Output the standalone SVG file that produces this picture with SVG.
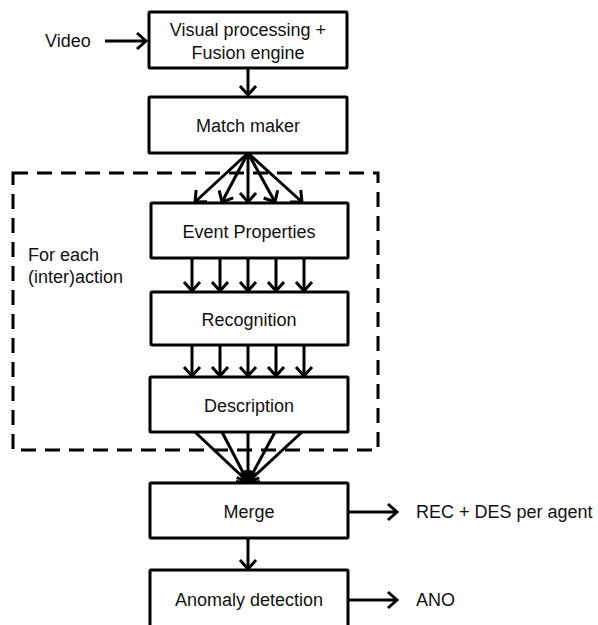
<svg xmlns="http://www.w3.org/2000/svg" width="598" height="625" viewBox="0 0 598 625">
<defs>
<style>
.box{fill:#fff;stroke:#000;stroke-width:3}
.t{font-family:"Liberation Sans",Arial,sans-serif;font-size:18px;fill:#111}
.c{stroke:#000;stroke-width:3;fill:none}
</style>
<marker id="ah" markerUnits="userSpaceOnUse" markerWidth="20" markerHeight="20" viewBox="-12 -10 14 20" refX="0" refY="0" orient="auto" overflow="visible">
<path d="M-9,-8 L0,0 L-9,8" fill="none" stroke="#000" stroke-width="3"/>
</marker>
</defs>
<rect width="598" height="625" fill="#fff"/>
<rect x="13" y="173" width="365" height="277" fill="none" stroke="#000" stroke-width="3" stroke-dasharray="15,9"/>
<g id="connectors">
<line class="c" x1="105" y1="41" x2="146" y2="41" marker-end="url(#ah)"/>
<line class="c" x1="248" y1="68" x2="248" y2="95" marker-end="url(#ah)"/>
<line class="c" x1="248" y1="153" x2="195" y2="202" marker-end="url(#ah)"/>
<line class="c" x1="248" y1="153" x2="222" y2="202" marker-end="url(#ah)"/>
<line class="c" x1="248" y1="153" x2="248" y2="202" marker-end="url(#ah)"/>
<line class="c" x1="248" y1="153" x2="275" y2="202" marker-end="url(#ah)"/>
<line class="c" x1="248" y1="153" x2="302" y2="202" marker-end="url(#ah)"/>
<line class="c" x1="192" y1="258" x2="192" y2="291" marker-end="url(#ah)"/>
<line class="c" x1="220" y1="258" x2="220" y2="291" marker-end="url(#ah)"/>
<line class="c" x1="248" y1="258" x2="248" y2="291" marker-end="url(#ah)"/>
<line class="c" x1="276" y1="258" x2="276" y2="291" marker-end="url(#ah)"/>
<line class="c" x1="304" y1="258" x2="304" y2="291" marker-end="url(#ah)"/>
<line class="c" x1="192" y1="345" x2="192" y2="376" marker-end="url(#ah)"/>
<line class="c" x1="220" y1="345" x2="220" y2="376" marker-end="url(#ah)"/>
<line class="c" x1="248" y1="345" x2="248" y2="376" marker-end="url(#ah)"/>
<line class="c" x1="276" y1="345" x2="276" y2="376" marker-end="url(#ah)"/>
<line class="c" x1="304" y1="345" x2="304" y2="376" marker-end="url(#ah)"/>
<line class="c" x1="195" y1="432" x2="248" y2="482" marker-end="url(#ah)"/>
<line class="c" x1="222" y1="432" x2="248" y2="482" marker-end="url(#ah)"/>
<line class="c" x1="248" y1="432" x2="248" y2="482" marker-end="url(#ah)"/>
<line class="c" x1="275" y1="432" x2="248" y2="482" marker-end="url(#ah)"/>
<line class="c" x1="302" y1="432" x2="248" y2="482" marker-end="url(#ah)"/>
<line class="c" x1="348" y1="512" x2="397" y2="512" marker-end="url(#ah)"/>
<line class="c" x1="248" y1="538" x2="248" y2="569" marker-end="url(#ah)"/>
<line class="c" x1="348" y1="600" x2="397" y2="600" marker-end="url(#ah)"/>
</g>
<g id="video"><text class="t" x="45" y="47">Video</text></g>
<g id="visual">
<rect class="box" x="149" y="12" width="198" height="56" rx="1"/>
<text class="t" x="248" y="36" text-anchor="middle">Visual processing +</text>
<text class="t" x="248" y="59" text-anchor="middle">Fusion engine</text>
</g>
<g id="match">
<rect class="box" x="149" y="97" width="198" height="56" rx="1"/>
<text class="t" x="248" y="132" text-anchor="middle">Match maker</text>
</g>
<g id="foreach">
<text class="t" x="28" y="261">For each</text>
<text class="t" x="28" y="283">(inter)action</text>
</g>
<g id="event">
<rect class="box" x="151" y="203" width="197" height="55" rx="1"/>
<text class="t" x="249" y="238" text-anchor="middle">Event Properties</text>
</g>
<g id="recognition">
<rect class="box" x="151" y="292" width="197" height="53" rx="1"/>
<text class="t" x="249" y="326" text-anchor="middle">Recognition</text>
</g>
<g id="description">
<rect class="box" x="150" y="377" width="198" height="55" rx="1"/>
<text class="t" x="249" y="412" text-anchor="middle">Description</text>
</g>
<g id="merge">
<rect class="box" x="150" y="483" width="198" height="55" rx="1"/>
<text class="t" x="249" y="518" text-anchor="middle">Merge</text>
</g>
<g id="rec"><text class="t" x="416" y="518">REC + DES per agent</text></g>
<g id="anomaly">
<rect class="box" x="150" y="570" width="198" height="70" rx="1"/>
<text class="t" x="249" y="606" text-anchor="middle">Anomaly detection</text>
</g>
<g id="ano"><text class="t" x="416" y="606">ANO</text></g>
</svg>
